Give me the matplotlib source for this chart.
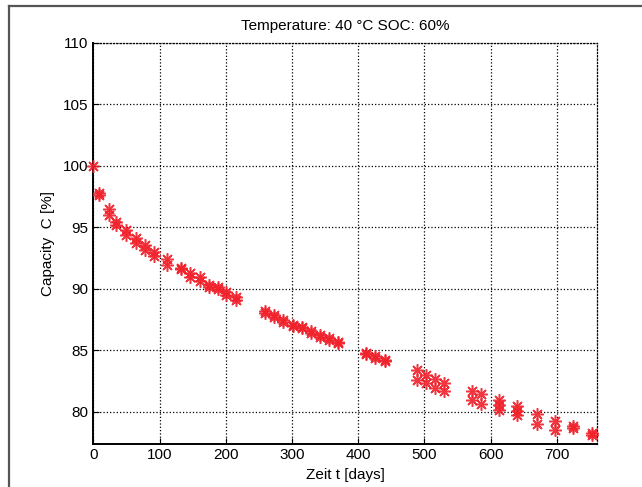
import numpy as np
import matplotlib.pyplot as plt
from matplotlib.lines import Line2D

zeit = [0, 8, 9,
        23, 23, 35, 35, 49, 49, 64, 64, 78, 78, 92, 92,
        112, 112, 132, 132, 146, 146, 161, 161, 174, 174, 188, 188,
        201, 201, 216, 216,
        259, 260, 273, 273, 287, 287, 301, 301, 315, 315, 329, 329,
        342, 342, 356, 356, 370, 370,
        411, 411, 425, 425, 440, 440,
        488, 488, 502, 502, 516, 516, 530, 530,
        572, 572, 586, 586, 612, 612, 612, 640, 640, 640,
        670, 670, 697, 697, 724, 724, 753, 753]
kapazitaet = [100.0, 97.75, 97.6,
              96.45, 95.95, 95.45, 95.15, 94.75, 94.4, 94.1, 93.75, 93.55, 93.15, 93.0, 92.65,
              92.4, 91.95, 91.7, 91.6, 91.25, 90.98, 90.98, 90.65, 90.3, 90.15, 90.1, 89.95,
              89.75, 89.45, 89.35, 89.1,
              88.2, 88.05, 87.85, 87.7, 87.45, 87.3, 87.05, 86.95, 86.9, 86.8, 86.55, 86.4,
              86.25, 86.1, 85.95, 85.85, 85.7, 85.55,
              84.8, 84.7, 84.5, 84.4, 84.2, 84.1,
              83.4, 82.6, 83.0, 82.35, 82.65, 81.95, 82.35, 81.65,
              81.65, 80.95, 81.45, 80.65, 80.95, 80.5, 80.15, 80.45, 80.05, 79.7,
              79.8, 79.0, 79.25, 78.5, 78.85, 78.7, 78.25, 78.1]

fig = plt.figure(figsize=(6.42, 4.87), dpi=100)
plt.rcParams['font.family'] = ['Liberation Sans', 'DejaVu Sans']
ax = fig.add_axes([0.1453, 0.0891, 0.7841, 0.8232])

ax.plot(zeit, kapazitaet, ls='', marker=(8, 2, 0), ms=9, mew=1.1,
        color='#f0202a', alpha=0.9, clip_on=False, zorder=3)

ax.set_xlim(0, 760)
ax.set_ylim(77.4, 110)
ax.set_xticks(np.arange(0, 701, 100))
ax.set_yticks(np.arange(80, 111, 5))
ax.grid(color='black', ls=':', lw=0.9)
ax.tick_params(direction='in', length=4, labelsize=11, color='black')
for s in ['left', 'bottom']:
    ax.spines[s].set_linewidth(1.4)
for s in ['top', 'right']:
    ax.spines[s].set_linestyle(':')
    ax.spines[s].set_linewidth(0.9)

ax.set_xlabel('Zeit t [days]', fontsize=11, labelpad=4)
ax.set_ylabel('Capacity  C [%]', fontsize=11, labelpad=6)
ax.set_title('Temperature: 40 °C SOC: 60%', fontsize=11, pad=9)

# Rahmen oben und links
fig.add_artist(Line2D([8.5/642, 1], [1-5.5/487, 1-5.5/487], color='#555555', lw=1.6))
fig.add_artist(Line2D([8.5/642, 8.5/642], [0, 1-5.5/487], color='#555555', lw=1.6))

fig.savefig('out.png', dpi=100)
